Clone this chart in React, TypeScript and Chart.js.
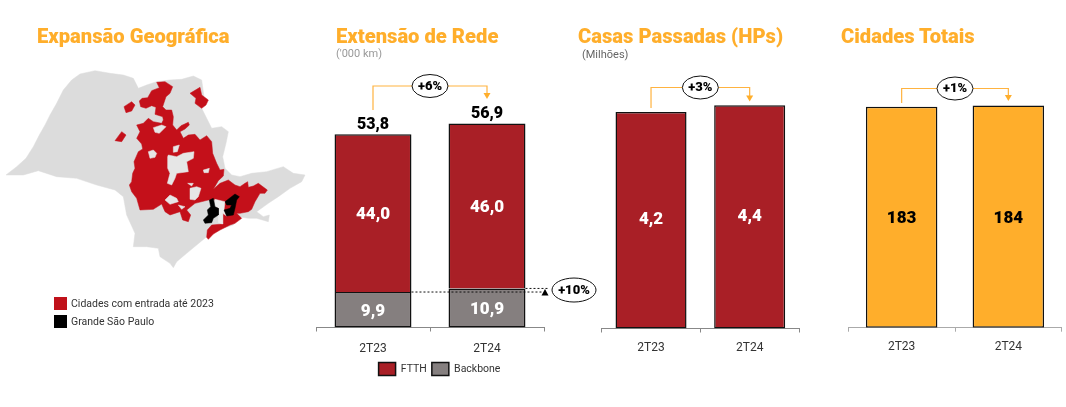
import React, { useEffect, useRef } from "react";
import { Chart, registerables } from "chart.js";

Chart.register(...registerables);

const periods = ["2T23", "2T24"];
const ftth = [44.0, 46.0];
const backbone = [9.9, 10.9];
const networkTotals = [53.8, 56.9];
const homesPassed = [4.24, 4.37];
const totalCities = [183, 184];

// Map geometry, in map units (3 units to a pixel)
const stateOutline: number[][] = [[18,525],[50,500],[78,475],[100,440],[118,405],[135,375],[150,345],[170,310],[190,270],[215,240],[240,222],[285,212],[330,220],[370,225],[400,235],[415,265],[440,255],[470,245],[510,240],[545,238],[580,228],[605,240],[612,290],[605,325],[620,355],[635,385],[665,380],[685,395],[678,430],[668,470],[675,505],[695,525],[720,530],[755,520],[800,515],[850,500],[880,520],[915,525],[905,545],[870,565],[835,590],[805,610],[770,635],[790,650],[808,645],[805,665],[770,655],[745,655],[715,650],[700,675],[650,690],[620,710],[590,735],[560,760],[530,785],[520,803],[510,790],[480,770],[475,745],[440,740],[400,740],[405,700],[380,645],[370,590],[345,570],[290,555],[230,535],[170,530],[115,512],[70,525],[18,525]];
const mainRegion: number[][] = [[470,247],[495,245],[518,260],[510,280],[498,290],[488,320],[498,330],[515,330],[520,350],[518,375],[530,390],[543,377],[565,367],[568,375],[555,387],[540,395],[550,415],[565,405],[585,403],[600,420],[620,407],[635,425],[638,460],[650,490],[660,510],[672,508],[670,528],[655,542],[640,568],[660,550],[685,540],[705,555],[720,560],[735,550],[743,545],[745,562],[760,558],[775,550],[802,570],[795,580],[780,580],[765,605],[755,628],[745,635],[720,640],[710,640],[725,655],[705,670],[690,675],[660,690],[640,702],[625,718],[620,712],[622,690],[635,675],[668,672],[668,640],[650,625],[645,598],[625,600],[585,610],[560,630],[572,645],[565,665],[548,660],[540,635],[510,645],[495,635],[485,612],[460,628],[420,630],[410,595],[395,575],[388,555],[395,545],[398,520],[405,505],[402,485],[415,455],[428,447],[425,432],[410,415],[420,395],[410,375],[430,370],[445,355],[460,365],[485,370],[490,360],[488,350],[465,343],[468,322],[455,317],[438,325],[422,320],[418,303],[426,295],[443,293],[455,272],[478,263],[470,247]];
const islandNorthEast: number[][] = [[570,280],[600,262],[605,285],[625,300],[618,315],[605,325],[585,310],[588,295],[570,280]];
const islandNorth: number[][] = [[372,320],[395,305],[405,315],[395,333],[378,338],[372,320]];
const islandWest: number[][] = [[345,422],[365,395],[378,405],[365,425],[345,422]];
const holes: number[][][] = [
  [[445,455],[460,450],[470,460],[465,472],[450,475],[445,455]],
  [[460,383],[485,375],[498,380],[478,400],[465,397],[460,383]],
  [[505,465],[530,470],[550,460],[582,455],[580,475],[560,485],[565,515],[530,520],[525,535],[515,555],[502,550],[510,520],[503,505],[503,470],[505,465]],
  [[495,600],[510,585],[530,595],[535,605],[510,613],[495,600]],
  [[570,565],[590,560],[603,565],[595,590],[585,600],[570,598],[570,565]],
  [[610,510],[628,505],[625,518],[612,518],[610,510]],
  [[563,550],[580,550],[575,558],[563,550]],
  [[535,615],[555,620],[545,628],[535,615]],
  [[520,440],[538,435],[532,455],[520,457],[520,440]],
];
const metroGap: number[][] = [[645,598],[675,605],[672,630],[680,648],[668,640],[668,672],[655,668],[655,645],[655,625],[645,620],[645,598]];
const metroWest: number[][] = [[628,600],[640,595],[645,620],[655,625],[655,645],[640,655],[635,668],[615,670],[610,660],[625,645],[622,630],[632,620],[628,600]];
const metroEast: number[][] = [[675,605],[705,582],[718,590],[710,600],[705,625],[700,645],[680,648],[672,630],[690,625],[695,615],[680,615],[675,605]];
const mapLegendLabels = ["Cidades com entrada até 2023", "Grande São Paulo"];

const RED = "#A91F26";
const GREY = "#857F7F";
const ORANGE = "#FFAE2B";
const EDGE = "#111111";
const MAP_RED = "#C4101A";
const MAP_GREY = "#DCDCDC";
const FONT = "Roboto, sans-serif";

const fmt = (v: number, d = 1) => v.toFixed(d).replace(".", ",");

const oval = (ctx: CanvasRenderingContext2D, cx: number, cy: number, rx: number, ry: number, text: string) => {
  ctx.beginPath();
  ctx.ellipse(cx, cy, rx, ry, 0, 0, Math.PI * 2);
  ctx.fillStyle = "#fff";
  ctx.fill();
  ctx.strokeStyle = "#111";
  ctx.lineWidth = 1;
  ctx.stroke();
  ctx.fillStyle = "#000";
  ctx.font = `900 13px ${FONT}`;
  ctx.textAlign = "center";
  ctx.textBaseline = "middle";
  ctx.fillText(text, cx, cy + 0.5);
};

const growthPlugin = {
  id: "growth",
  afterDraw(chart: any, _a: any, o: any) {
    const ctx = chart.ctx;
    const els = chart.getDatasetMeta(chart.data.datasets.length - 1).data;
    const x0 = els[0].x, x1 = els[1].x, cx = (x0 + x1) / 2;
    ctx.save();
    ctx.strokeStyle = "#FFB340";
    ctx.lineWidth = 1.2;
    ctx.beginPath();
    ctx.moveTo(x0, o.startY);
    ctx.lineTo(x0, o.lineY);
    ctx.lineTo(x1, o.lineY);
    ctx.lineTo(x1, o.tipY - 5);
    ctx.stroke();
    ctx.fillStyle = "#FFAE2B";
    ctx.beginPath();
    ctx.moveTo(x1 - 3.5, o.tipY - 6);
    ctx.lineTo(x1 + 3.5, o.tipY - 6);
    ctx.lineTo(x1, o.tipY);
    ctx.closePath();
    ctx.fill();
    oval(ctx, cx, o.lineY, 18, 11.5, o.label);
    ctx.restore();
  },
};

const barTextPlugin = {
  id: "barText",
  afterDatasetsDraw(chart: any, _a: any, o: any) {
    const ctx = chart.ctx;
    ctx.save();
    ctx.textAlign = "center";
    ctx.textBaseline = "middle";
    ctx.font = `900 17px ${FONT}`;
    chart.data.datasets.forEach((ds: any, i: number) => {
      chart.getDatasetMeta(i).data.forEach((el: any, j: number) => {
        ctx.fillStyle = o.color;
        ctx.fillText(o.format(ds.data[j]), el.x, (el.y + el.base) / 2 + o.dy);
      });
    });
    if (o.totals) {
      const top = chart.getDatasetMeta(chart.data.datasets.length - 1).data;
      ctx.fillStyle = "#000";
      ctx.font = `900 16px ${FONT}`;
      o.totals.forEach((t: number, j: number) => ctx.fillText(fmt(t), top[j].x, top[j].y - 9.5));
    }
    ctx.restore();
  },
};

const dottedPlugin = {
  id: "dotted",
  afterDraw(chart: any) {
    const ctx = chart.ctx;
    const low = chart.getDatasetMeta(0).data;
    const right = chart.chartArea.right;
    ctx.save();
    ctx.strokeStyle = "#111";
    ctx.lineWidth = 1;
    ctx.setLineDash([2, 2]);
    ctx.beginPath();
    ctx.moveTo(low[0].x + low[0].width / 2, low[0].y);
    ctx.lineTo(right - 2, low[0].y);
    ctx.moveTo(low[1].x + low[1].width / 2, low[1].y);
    ctx.lineTo(right + 4, low[1].y);
    ctx.stroke();
    ctx.setLineDash([]);
    ctx.fillStyle = "#000";
    const tx = right + 1;
    const ty = low[0].y;
    ctx.beginPath();
    ctx.moveTo(tx, ty - 3);
    ctx.lineTo(tx + 3.5, ty + 3.5);
    ctx.lineTo(tx - 3.5, ty + 3.5);
    ctx.closePath();
    ctx.fill();
    oval(ctx, right + 30, ty - 2, 22, 12, "+10%");
    ctx.restore();
  },
};

const mapLegendPlugin = {
  id: "mapLegend",
  afterDraw(chart: any) {
    const ctx = chart.ctx;
    ctx.save();
    ctx.font = `400 10.5px ${FONT}`;
    ctx.textBaseline = "middle";
    ctx.textAlign = "left";
    mapLegendLabels.forEach((label, i) => {
      const y = 297 + i * 18;
      ctx.fillStyle = i === 0 ? "#C0111A" : "#000";
      ctx.fillRect(54, y, 13, 13);
      ctx.fillStyle = "#333";
      ctx.fillText(label, 71, y + 7);
    });
    ctx.restore();
  },
};

const xAxis = (color: string, padding = 8) => ({
  offset: true,
  border: { color, width: 1 },
  grid: { offset: true, drawOnChartArea: false, drawTicks: true, tickLength: 4, tickColor: color, lineWidth: 1 },
  ticks: { color: "#333", padding, font: { family: FONT, size: 12 }, maxRotation: 0 },
  afterFit: (s: any) => { s.height = 30; },
});

const shape = (data: number[][], color: string) => ({
  type: "scatter",
  data: data.map(([x, y]) => ({ x, y })),
  showLine: true,
  fill: "shape",
  backgroundColor: color,
  borderColor: color,
  borderWidth: 0.5,
  pointRadius: 0,
  tension: 0,
});

const titles = [
  { text: "Expansão Geográfica", left: 37 },
  { text: "Extensão de Rede", left: 336 },
  { text: "Casas Passadas (HPs)", left: 578 },
  { text: "Cidades Totais", left: 841 },
];
const subtitles = [
  { text: "('000 km)", left: 336, top: 47, color: "#999" },
  { text: "(Milhões)", left: 582, top: 48, color: "#666" },
];

export default function App() {
  const mapRef = useRef<HTMLCanvasElement>(null);
  const netRef = useRef<HTMLCanvasElement>(null);
  const homesRef = useRef<HTMLCanvasElement>(null);
  const citiesRef = useRef<HTMLCanvasElement>(null);

  useEffect(() => {
    const base = { responsive: false, animation: false as const, devicePixelRatio: 1 };
    const bar = { borderColor: EDGE, borderWidth: 1.5, categoryPercentage: 1, borderSkipped: false };
    const charts: Chart[] = [];

    charts.push(new Chart(mapRef.current!, {
      type: "scatter",
      data: {
        datasets: [
          shape(metroWest, "#000"),
          shape(metroEast, "#000"),
          shape(metroGap, "#EDEDED"),
          ...holes.map((h) => shape(h, "#E6E6E6")),
          shape(mainRegion, MAP_RED),
          shape(islandNorthEast, MAP_RED),
          shape(islandNorth, MAP_RED),
          shape(islandWest, MAP_RED),
          shape(stateOutline, MAP_GREY),
        ] as any,
      },
      options: {
        ...base,
        layout: { padding: 0 },
        plugins: { legend: { display: false }, tooltip: { enabled: false } },
        scales: {
          x: { type: "linear", display: false, min: 0, max: 960 },
          y: { type: "linear", display: false, min: 0, max: 1020, reverse: true },
        },
      },
      plugins: [mapLegendPlugin],
    } as any));

    charts.push(new Chart(netRef.current!, {
      type: "bar",
      data: {
        labels: periods,
        datasets: [
          { label: "Backbone", data: backbone, backgroundColor: GREY, barPercentage: 0.675, ...bar },
          { label: "FTTH", data: ftth, backgroundColor: RED, barPercentage: 0.675, ...bar, borderSkipped: "bottom" },
        ],
      },
      options: {
        ...base,
        layout: { padding: { top: 60, bottom: 21.5, left: 0, right: 0 } },
        scales: {
          x: { ...xAxis("#888", 10), stacked: true },
          y: { stacked: true, min: 0, max: 74.65, grid: { display: false }, border: { display: false }, ticks: { display: false }, afterFit: (s: any) => { s.width = 35; } },
          yRight: { position: "right", min: 0, max: 74.65, grid: { display: false }, border: { display: false }, ticks: { display: false }, afterFit: (s: any) => { s.width = 54; } },
        },
        plugins: {
          tooltip: { enabled: false },
          legend: {
            position: "bottom",
            reverse: true,
            labels: { boxWidth: 17, boxHeight: 13, padding: 5, color: "#333", font: { family: FONT, size: 10.5 } },
          },
          barText: { color: "#fff", dy: 1.5, format: (v: number) => fmt(v), totals: networkTotals },
          growth: { label: "+6%", startY: 110, lineY: 86, tipY: 99 },
        },
      },
      plugins: [barTextPlugin, growthPlugin, dottedPlugin],
    } as any));

    charts.push(new Chart(homesRef.current!, {
      type: "bar",
      data: {
        labels: periods,
        datasets: [{ label: "Casas Passadas", data: homesPassed, backgroundColor: RED, barPercentage: 0.72, ...bar }],
      },
      options: {
        ...base,
        layout: { padding: { top: 60, bottom: 48.5, left: 5.7, right: 31 } },
        scales: { x: xAxis("#888"), y: { display: false, min: 0, max: 5.256 } },
        plugins: {
          legend: { display: false },
          tooltip: { enabled: false },
          barText: { color: "#fff", dy: -0.5, format: (v: number) => fmt(v) },
          growth: { label: "+3%", startY: 108, lineY: 87.5, tipY: 101.5 },
        },
      },
      plugins: [barTextPlugin, growthPlugin],
    } as any));

    charts.push(new Chart(citiesRef.current!, {
      type: "bar",
      data: {
        labels: periods,
        datasets: [{ label: "Cidades Totais", data: totalCities, backgroundColor: ORANGE, barPercentage: 0.67, ...bar }],
      },
      options: {
        ...base,
        layout: { padding: { top: 60, bottom: 49.3, left: 18.3, right: 4.3 } },
        scales: { x: xAxis("#aaa"), y: { display: false, min: 0, max: 221.7 } },
        plugins: {
          legend: { display: false },
          tooltip: { enabled: false },
          barText: { color: "#000", dy: 2, format: (v: number) => String(v) },
          growth: { label: "+1%", startY: 103, lineY: 88.5, tipY: 101 },
        },
      },
      plugins: [barTextPlugin, growthPlugin],
    } as any));

    return () => charts.forEach((c) => c.destroy());
  }, []);

  const abs = (left: number, width: number, height = 407): React.CSSProperties => ({ position: "absolute", left, top: 0, width, height });

  return (
    <div style={{ position: "absolute", left: 0, top: 0, width: 1066, height: 407, overflow: "hidden", background: "#fff" }}>
      <canvas ref={mapRef} width={320} height={340} style={abs(0, 320, 340)} />
      <canvas ref={netRef} width={317} height={407} style={abs(281, 317)} />
      <canvas ref={homesRef} width={234} height={407} style={abs(596, 234)} />
      <canvas ref={citiesRef} width={236} height={407} style={abs(830, 236)} />
      {titles.map((t) => (
        <div key={t.text} style={{ position: "absolute", left: t.left, top: 23, whiteSpace: "nowrap", color: "#FFAE2B", font: `900 20.2px/26px Roboto, sans-serif` }}>{t.text}</div>
      ))}
      {subtitles.map((t) => (
        <div key={t.text} style={{ position: "absolute", left: t.left, top: t.top, whiteSpace: "nowrap", color: t.color, font: `400 11px/13px ${FONT}` }}>{t.text}</div>
      ))}
    </div>
  );
}
